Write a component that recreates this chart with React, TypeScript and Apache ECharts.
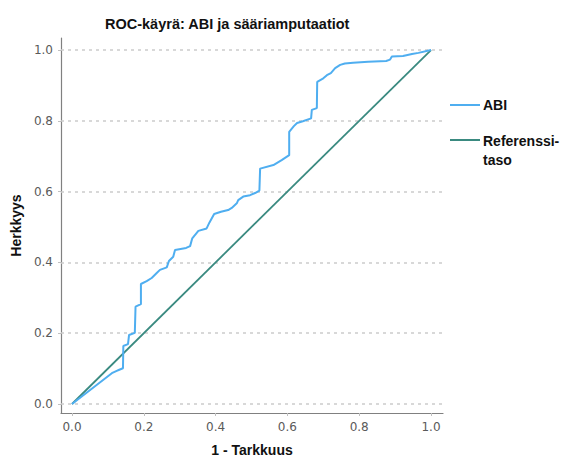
import React, { useEffect, useRef } from "react";
import * as echarts from "echarts";

const chartTitle = "ROC-käyrä: ABI ja sääriamputaatiot";
const xAxisTitle = "1 - Tarkkuus";
const yAxisTitle = "Herkkyys";
const seriesNames = ["ABI", "Referenssi-\ntaso"];
const tickValues = [0, 0.2, 0.4, 0.6, 0.8, 1.0];

// ABI ROC curve: 1 - specificity (x) and sensitivity (y)
const abiFpr = [
  0, 0.111, 0.123, 0.13, 0.142, 0.143, 0.156, 0.159, 0.175, 0.177, 0.192, 0.192,
  0.208, 0.222, 0.236, 0.245, 0.264, 0.27, 0.282, 0.287, 0.318, 0.329, 0.335,
  0.352, 0.375, 0.383, 0.396, 0.415, 0.435, 0.445, 0.459, 0.463, 0.477, 0.496,
  0.51, 0.522, 0.524, 0.561, 0.584, 0.605, 0.605, 0.618, 0.627, 0.643, 0.666,
  0.668, 0.682, 0.683, 0.7, 0.71, 0.721, 0.733, 0.747, 0.76, 0.783, 0.825,
  0.875, 0.886, 0.891, 0.922, 0.947, 0.965, 1.0,
];
const abiTpr = [
  0, 0.087, 0.093, 0.096, 0.101, 0.164, 0.169, 0.195, 0.201, 0.275, 0.282, 0.339,
  0.347, 0.356, 0.37, 0.379, 0.386, 0.404, 0.416, 0.435, 0.441, 0.446, 0.468,
  0.489, 0.496, 0.513, 0.537, 0.543, 0.548, 0.554, 0.567, 0.576, 0.586, 0.59,
  0.596, 0.603, 0.665, 0.675, 0.689, 0.703, 0.769, 0.785, 0.794, 0.799, 0.807,
  0.831, 0.836, 0.91, 0.92, 0.929, 0.935, 0.949, 0.958, 0.962, 0.964, 0.967,
  0.969, 0.973, 0.982, 0.983, 0.989, 0.992, 1.0,
];
// Reference diagonal
const refFpr = [0, 1];
const refTpr = [0, 1];

const colors = { abi: "#4FAEF0", ref: "#3A8A80" };

export default function App() {
  const ref = useRef<HTMLDivElement>(null);
  useEffect(() => {
    if (!ref.current) return;
    const chart = echarts.init(ref.current, null, { renderer: "svg" });
    const font = '"Liberation Sans", Arial, sans-serif';
    const axisCommon = {
      type: "value",
      axisLine: { show: true, onZero: false, lineStyle: { color: "#808080", width: 1.2 } },
      axisTick: {
        show: true,
        length: 3,
        customValues: tickValues,
        lineStyle: { color: "#c0c0c0" },
      },
      axisLabel: {
        customValues: tickValues,
        formatter: (v: number) => v.toFixed(1),
        color: "#5a5a5a",
        fontSize: 12,
        fontFamily: '"DejaVu Sans", sans-serif',
        margin: 8,
      },
      nameTextStyle: {
        color: "#111",
        fontSize: 14,
        fontWeight: "bold",
        fontFamily: font,
      },
      nameLocation: "middle",
    };
    chart.setOption({
      animation: false,
      backgroundColor: "#fff",
      title: {
        text: chartTitle,
        left: 100,
        top: 11,
        textStyle: { fontSize: 14.5, fontWeight: "bold", color: "#111", fontFamily: font },
      },
      grid: { left: 61, right: 127, top: 38, bottom: 50, containLabel: false },
      xAxis: {
        ...axisCommon,
        min: -0.0306,
        max: 1.0334,
        name: xAxisTitle,
        nameGap: 30,
        splitLine: { show: false },
      },
      yAxis: {
        ...axisCommon,
        min: -0.0254,
        max: 1.034,
        name: yAxisTitle,
        nameGap: 37,
        splitLine: { show: false },
      },
      series: [
        {
          name: seriesNames[0],
          type: "line",
          data: abiFpr.map((x, i) => [x, abiTpr[i]]),
          showSymbol: false,
          lineStyle: { color: colors.abi, width: 2 },
          z: 3,
          markLine: {
            silent: true,
            symbol: "none",
            label: { show: false },
            lineStyle: { color: "#cccccc", type: [3, 4], width: 1.5 },
            data: tickValues.map((v) => [
              { coord: [-0.0306, v] },
              { coord: [1.0334, v] },
            ]),
            z: 1,
          },
        },
        {
          name: seriesNames[1],
          type: "line",
          data: refFpr.map((x, i) => [x, refTpr[i]]),
          showSymbol: false,
          lineStyle: { color: colors.ref, width: 1.8 },
          z: 2,
        },
      ],
      graphic: [
        {
          type: "line",
          shape: { x1: 450, y1: 105, x2: 480, y2: 105 },
          style: { stroke: colors.abi, lineWidth: 2 },
        },
        {
          type: "text",
          x: 483,
          y: 105,
          style: {
            text: seriesNames[0],
            font: "bold 14px " + font,
            fill: "#111",
            verticalAlign: "middle",
          },
        },
        {
          type: "line",
          shape: { x1: 450, y1: 140, x2: 480, y2: 140 },
          style: { stroke: colors.ref, lineWidth: 2 },
        },
        {
          type: "text",
          x: 483,
          y: 131,
          style: {
            text: seriesNames[1],
            font: "bold 14px " + font,
            fill: "#111",
            verticalAlign: "top",
            lineHeight: 19,
          },
        },
      ],
    });
    return () => chart.dispose();
  }, []);
  return (
    <div
      ref={ref}
      style={{ position: "fixed", left: 0, top: 0, width: 570, height: 463, background: "#fff" }}
    />
  );
}
